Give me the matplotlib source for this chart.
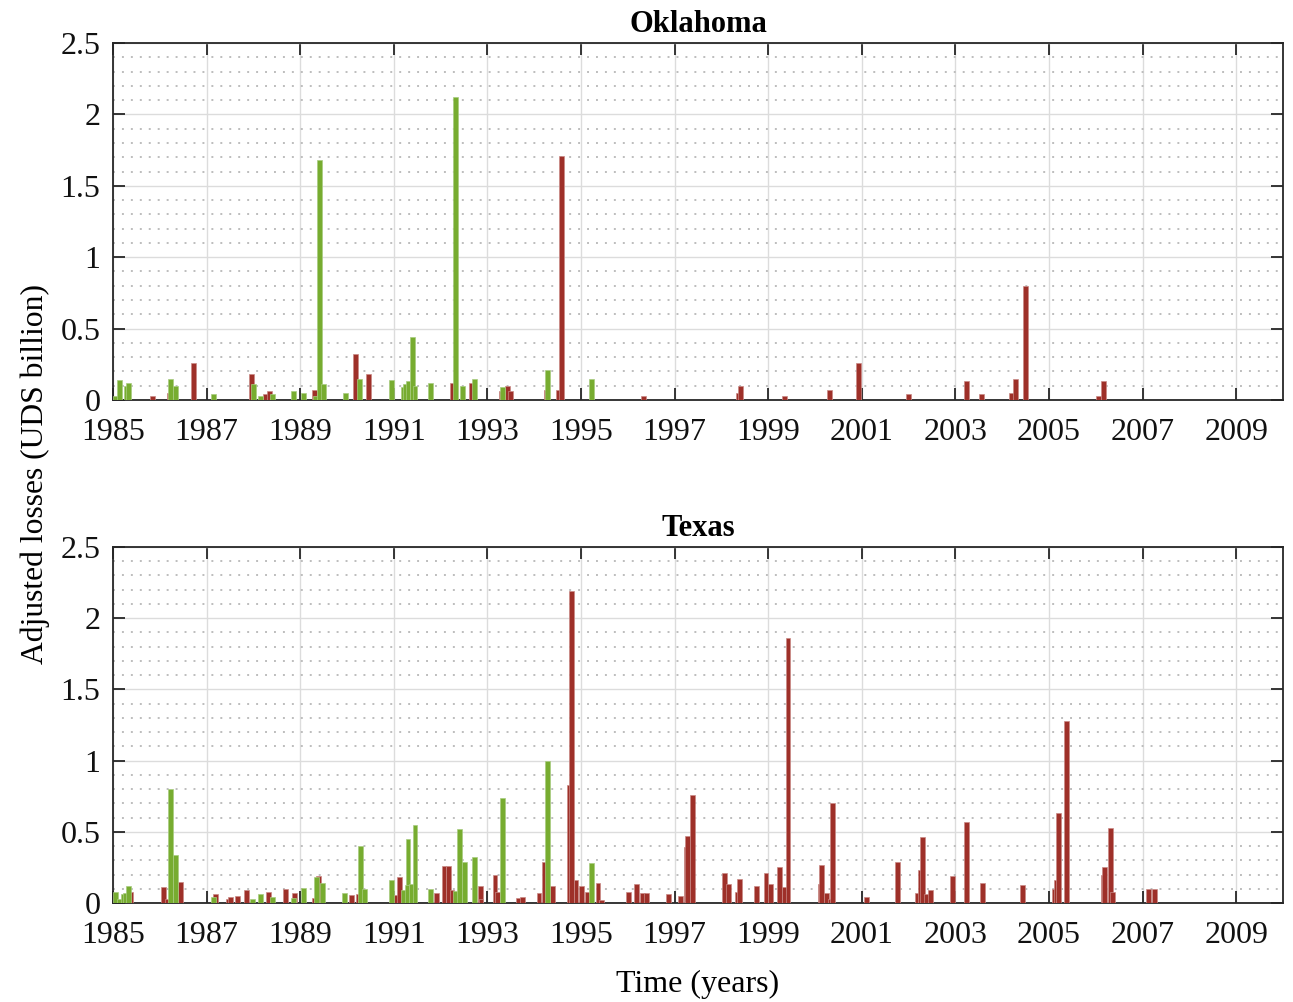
import numpy as np
import matplotlib
matplotlib.use("Agg")
import matplotlib.pyplot as plt
from matplotlib.ticker import MultipleLocator

# dates of events (fractional year) and adjusted losses (billion)
ok_green_t = [1985.0, 1985.09, 1985.24, 1985.28, 1986.18, 1986.29, 1987.09, 1987.94, 1988.1, 1988.35,
              1988.8, 1989.01, 1989.27, 1989.35, 1989.44, 1989.91, 1990.21, 1990.89, 1991.15, 1991.19,
              1991.25, 1991.34, 1991.4, 1991.74, 1992.26, 1992.41, 1992.68, 1993.26, 1994.24, 1995.18]
ok_green_v = [0.03, 0.14, 0.10, 0.12, 0.15, 0.10, 0.04, 0.11, 0.03, 0.04,
              0.06, 0.05, 0.03, 1.68, 0.11, 0.05, 0.15, 0.14, 0.09, 0.11,
              0.13, 0.44, 0.10, 0.12, 2.12, 0.10, 0.15, 0.09, 0.21, 0.15]

ok_red_t = [1985.79, 1986.16, 1986.67, 1987.9, 1988.2, 1988.29, 1989.25, 1990.12, 1990.4, 1992.19,
            1992.6, 1993.24, 1993.37, 1993.45, 1994.2, 1994.46, 1994.54, 1996.29, 1998.32, 1998.36,
            1999.3, 2000.26, 2000.88, 2001.95, 2003.19, 2003.5, 2004.15, 2004.23, 2004.44, 2006.0, 2006.11]
ok_red_v = [0.03, 0.05, 0.26, 0.18, 0.04, 0.06, 0.07, 0.32, 0.18, 0.12,
            0.12, 0.06, 0.10, 0.06, 0.07, 0.07, 1.71, 0.03, 0.05, 0.10,
            0.03, 0.07, 0.26, 0.04, 0.13, 0.04, 0.05, 0.15, 0.80, 0.03, 0.13]

tx_green_t = [1985.0, 1985.09, 1985.17, 1985.22, 1985.28, 1986.18, 1986.29, 1987.09, 1987.92, 1988.1,
              1988.35, 1988.8, 1989.01, 1989.29, 1989.42, 1989.89, 1990.23, 1990.32, 1990.89, 1991.15,
              1991.25, 1991.23, 1991.32, 1991.4, 1991.74, 1992.26, 1992.36, 1992.45, 1992.68, 1993.26,
              1994.24, 1995.18]
tx_green_v = [0.08, 0.03, 0.06, 0.07, 0.12, 0.80, 0.34, 0.045, 0.03, 0.065,
              0.045, 0.035, 0.105, 0.18, 0.14, 0.07, 0.40, 0.10, 0.16, 0.09,
              0.45, 0.125, 0.13, 0.55, 0.10, 0.085, 0.52, 0.285, 0.325, 0.74,
              1.00, 0.28]

tx_red_t = [1985.33, 1986.03, 1986.12, 1986.39, 1987.13, 1987.41, 1987.45, 1987.6, 1987.8, 1988.27,
            1988.63, 1988.82, 1989.25, 1989.33, 1990.04, 1990.19, 1990.98, 1991.06, 1991.85, 1992.02,
            1992.12, 1992.19, 1992.79, 1992.81, 1993.11, 1993.16, 1993.62, 1993.7, 1994.05, 1994.17,
            1994.34, 1994.71, 1994.74, 1994.84, 1994.96, 1995.09, 1995.31, 1995.38, 1995.97, 1996.14,
            1996.27, 1996.35, 1996.82, 1997.08, 1997.19, 1997.23, 1997.32, 1998.02, 1998.1, 1998.28,
            1998.34, 1998.7, 1998.9, 1999.0, 1999.19, 1999.3, 1999.37, 2000.07, 2000.09, 2000.2,
            2000.27, 2000.33, 2001.05, 2001.71, 2002.14, 2002.19, 2002.25, 2002.33, 2002.42, 2002.89,
            2003.19, 2003.53, 2004.38, 2005.06, 2005.11, 2005.15, 2005.32, 2006.11, 2006.13, 2006.26,
            2006.3, 2007.07, 2007.2]
tx_red_v = [0.08, 0.11, 0.03, 0.15, 0.06, 0.03, 0.04, 0.05, 0.09, 0.075,
            0.10, 0.07, 0.035, 0.19, 0.055, 0.06, 0.055, 0.185, 0.07, 0.26,
            0.26, 0.09, 0.12, 0.03, 0.20, 0.08, 0.035, 0.045, 0.07, 0.29,
            0.12, 0.83, 2.19, 0.16, 0.12, 0.08, 0.14, 0.02, 0.08, 0.135,
            0.07, 0.07, 0.06, 0.05, 0.395, 0.47, 0.76, 0.21, 0.135, 0.08,
            0.17, 0.12, 0.21, 0.13, 0.255, 0.11, 1.86, 0.135, 0.27, 0.07,
            0.03, 0.70, 0.045, 0.29, 0.07, 0.23, 0.46, 0.06, 0.09, 0.19,
            0.57, 0.14, 0.125, 0.10, 0.16, 0.635, 1.28, 0.20, 0.25, 0.53,
            0.08, 0.10, 0.10]

xticks = list(range(1985, 2010, 2))
yticks = [0, 0.5, 1, 1.5, 2, 2.5]
ytick_labels = ["0", "0.5", "1", "1.5", "2", "2.5"]

green = "#77AC30"
red = "#9E3029"
axcol = "#262626"

plt.rcParams["font.family"] = ["Liberation Serif", "DejaVu Serif"]
plt.rcParams["font.size"] = 23

fig = plt.figure(figsize=(12.93, 10.02), dpi=100)
ax1 = fig.add_axes([0.0874, 0.6008, 0.9049, 0.3563])
ax2 = fig.add_axes([0.0874, 0.0988, 0.9049, 0.3553])

panels = [(ax1, "Oklahoma", ok_green_t, ok_green_v, ok_red_t, ok_red_v),
          (ax2, "Texas", tx_green_t, tx_green_v, tx_red_t, tx_red_v)]

for ax, name, gt, gv, rt, rv in panels:
    ax.bar(rt, rv, width=0.105, align="edge", color=red, edgecolor="#c98a86", linewidth=0.5, zorder=3)
    ax.bar(gt, gv, width=0.105, align="edge", color=green, edgecolor="#a8cc80", linewidth=0.5, zorder=3)
    ax.set_xlim(1985, 2010)
    ax.set_ylim(0, 2.5)
    ax.set_xticks(xticks)
    ax.set_xticklabels([str(t) for t in xticks])
    ax.set_yticks(yticks)
    ax.set_yticklabels(ytick_labels)
    ax.yaxis.set_minor_locator(MultipleLocator(0.1))
    ax.grid(which="major", color="#dcdcdc", linewidth=1.0, zorder=0)
    ax.grid(which="minor", axis="y", color="#bdbdbd", linestyle=(0, (1, 3.6)), linewidth=1.4, zorder=0)
    ax.tick_params(which="major", direction="in", length=8.6, width=1.3, color=axcol,
                   top=True, right=True, labelsize=23, labelcolor="#111111")
    ax.tick_params(axis="x", pad=13)
    ax.tick_params(axis="y", pad=9)
    ax.tick_params(which="minor", length=0, left=False, right=False)
    for sp in ax.spines.values():
        sp.set_color(axcol)
        sp.set_linewidth(1.3)
    ax.set_axisbelow(True)
    ax.set_title(name, fontsize=22, fontweight="bold", pad=8)

ax2.set_xlabel("Time (years)", fontsize=23, labelpad=14)
fig.text(0.027, 0.527, "Adjusted losses (UDS billion)", rotation=90, ha="center", va="center", fontsize=22.8)

fig.savefig("out.png", dpi=100)
